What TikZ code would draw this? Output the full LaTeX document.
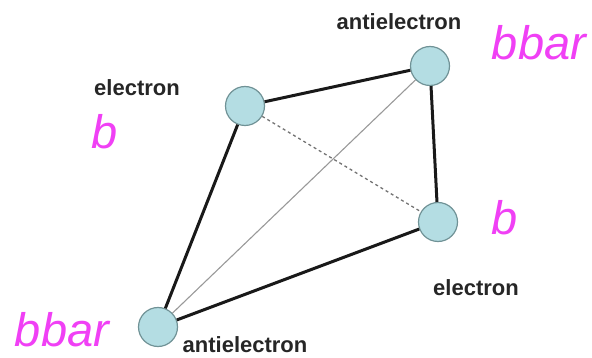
\documentclass[tikz,border=0pt]{standalone}
\usepackage{fontspec}
\setmainfont{Liberation Sans}
\usepackage{xcolor}
\usepackage{tikz}

\definecolor{ballfill}{RGB}{180,221,227}
\definecolor{balledge}{RGB}{112,146,150}
\definecolor{quarkpink}{RGB}{240,64,245}

\begin{document}
\begin{tikzpicture}[x=1pt, y=-1pt,
    ball/.style={circle, draw=balledge, fill=ballfill, line width=1.2pt,
                 minimum size=39pt, inner sep=0pt},
    particle/.style={font=\bfseries\fontsize{22}{24}\selectfont, text=black!85},
    quark/.style={font=\itshape\fontsize{47}{52}\selectfont, text=quarkpink},
    bond/.style={line width=3pt, black!90},
    thinbond/.style={line width=1.1pt, black!40}]
  \useasboundingbox (0,0) rectangle (592,358);
  \node[ball] (eA) at (245,106) {};
  \node[ball] (pB) at (430,66)  {};
  \node[ball] (eC) at (438,222) {};
  \node[ball] (pD) at (158,327) {};
  \node[particle] (lA) at (137,88)  {electron};
  \node[particle] (lB) at (399,22)  {antielectron};
  \node[particle] (lC) at (476,288) {electron};
  \node[particle] (lD) at (245,345) {antielectron};
  \node[quark] (qA) at (105,132) {b};
  \node[quark] (qB) at (539,43)  {bbar};
  \node[quark] (qC) at (505,218) {b};
  \node[quark] (qD) at (62,330)  {bbar};
  \draw[bond] (eA) -- (pB);
  \draw[bond] (pB) -- (eC);
  \draw[bond] (eC) -- (pD);
  \draw[bond] (pD) -- (eA);
  \draw[thinbond] (pD) -- (pB);
  \draw[thinbond, black!55, line width=1.3pt, dash pattern=on 3pt off 3pt] (eA) -- (eC);
\end{tikzpicture}
\end{document}
